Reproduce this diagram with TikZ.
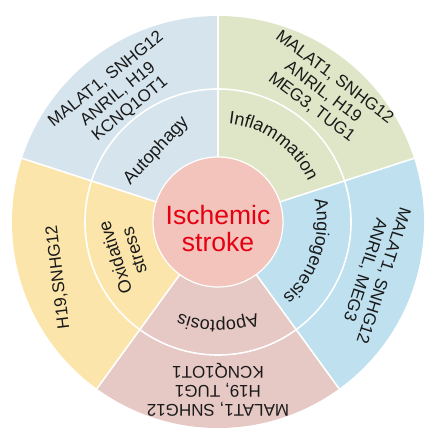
\documentclass[tikz,border=0pt]{standalone}
\usepackage{fontspec}
\setmainfont{Liberation Sans}
\usetikzlibrary{decorations.text}
\definecolor{cAuto}{HTML}{D6E4ED}
\definecolor{cInfl}{HTML}{DFE6C7}
\definecolor{cAngio}{HTML}{BEE0EF}
\definecolor{cApop}{HTML}{E6C8C4}
\definecolor{cOxi}{HTML}{FBE5AA}
\definecolor{cCore}{HTML}{F2C4BC}
\definecolor{cRed}{HTML}{E60012}
\definecolor{cText}{HTML}{1A1A1A}
\begin{document}
\begin{tikzpicture}[x=1pt,y=1pt,
  outerlbl/.style={align=center, font=\fontsize{17}{19}\selectfont, text=cText, inner sep=0pt},
  innerlbl/.style={align=center, font=\fontsize{18}{20}\selectfont, text=cText, inner sep=0pt},
  divider/.style={white, line width=1.6pt},
  sector/.style={draw=none}]
\useasboundingbox (-218,-211) rectangle (210,222);
\def\R{206}\def\Rm{133}\def\Ri{65}\def\Rt{99}
% sectors
\fill[cAuto]  (0,0) -- (90:\R)  arc[start angle=90,  end angle=162, radius=\R] -- cycle;
\fill[cOxi]   (0,0) -- (162:\R) arc[start angle=162, end angle=234, radius=\R] -- cycle;
\fill[cApop]  (0,0) -- (234:\R) arc[start angle=234, end angle=306, radius=\R] -- cycle;
\fill[cAngio] (0,0) -- (-54:\R) arc[start angle=-54, end angle=18,  radius=\R] -- cycle;
\fill[cInfl]  (0,0) -- (18:\R)  arc[start angle=18,  end angle=90,  radius=\R] -- cycle;
% white rings and dividers
\draw[divider] (0,0) circle[radius=\Rm];
\foreach \a in {18,90,162,234,306} \draw[divider] (\a:\Ri) -- (\a:\R);
% core
\node[circle, fill=cCore, draw=white, line width=1.2pt, minimum size=130pt, inner sep=0pt] (core) at (0,0) {};
\node[align=center, inner sep=0pt, text=cRed, font=\fontsize{26.5}{27.7}\selectfont] (coretxt) at (0,-6.5) {Ischemic\\stroke};
% inner labels
\node[innerlbl, rotate=47] (autoph) at (131:94) {Autophagy};
\node[innerlbl, rotate=108] (oxid) at (199:99) {Oxidative\\stress};
\path[decoration={text along path, text align=center, text color=cText,
  text={|\fontsize{18}{20}\selectfont|Inflammation}}, decorate]
  (90:\Rt) arc[start angle=90, end angle=18, radius=\Rt];
\path[decoration={text along path, text align=center, text color=cText,
  text={|\fontsize{18}{20}\selectfont|Angiogenesis}}, decorate]
  (18:\Rt) arc[start angle=18, end angle=-54, radius=\Rt];
\path[decoration={text along path, text align=center, text color=cText,
  text={|\fontsize{18}{20}\selectfont|Apoptosis}}, decorate]
  (-54:\Rt) arc[start angle=-54, end angle=-126, radius=\Rt];
% outer labels
\node[outerlbl, rotate=39] (autoG) at (128:162) {MALAT1, SNHG12\\ANRIL, H19\\KCNQ1OT1};
\node[outerlbl, rotate=-37] (inflG) at (51:167) {MALAT1, SNHG12\\ANRIL, H19\\MEG3, TUG1};
\node[outerlbl, rotate=-108] (angioG) at (-18:164) {MALAT1, SNHG12\\ANRIL, MEG3};
\node[outerlbl, rotate=180] (apopG) at (-90:168) {MALAT1, SNHG12\\H19, TUG1\\KCNQ1OT1};
\node[outerlbl, rotate=97] (oxiG) at (199:169) {H19,SNHG12};
\end{tikzpicture}
\end{document}
